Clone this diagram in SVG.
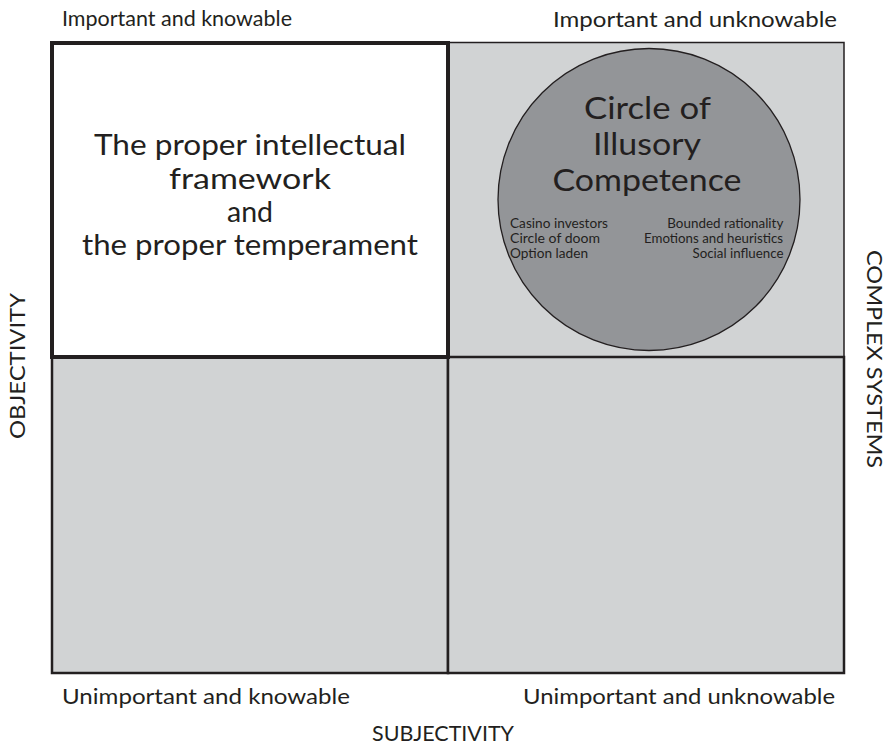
<svg xmlns="http://www.w3.org/2000/svg" width="890" height="746" viewBox="0 0 890 746">
<style>
text{font-family:Lato,"Open Sans","Liberation Sans",sans-serif;fill:#231f20}
.lbl{font-size:21px}
.big{font-size:28.5px;text-anchor:middle}
.ttl{font-size:31px;text-anchor:middle}
.sm{font-size:13px}
.q{fill:#d1d3d4;stroke:#231f20;stroke-width:2.5}
</style>
<rect width="890" height="746" fill="#ffffff"/>
<g id="q-tr"><rect class="q" x="448" y="42.5" width="396" height="314.5" style="stroke-width:1.5"/></g>
<g id="q-bl"><rect class="q" x="52" y="357" width="396" height="316"/></g>
<g id="q-br"><rect class="q" x="448" y="357" width="396" height="316"/></g>
<g id="q-tl"><rect x="52" y="43" width="396" height="314" fill="#ffffff" stroke="#231f20" stroke-width="4"/>
<text class="big" x="250" y="155" textLength="312" lengthAdjust="spacingAndGlyphs">The proper intellectual</text>
<text class="big" x="250" y="189" textLength="162" lengthAdjust="spacingAndGlyphs">framework</text>
<text class="big" x="250" y="222">and</text>
<text class="big" x="250" y="255" textLength="336" lengthAdjust="spacingAndGlyphs">the proper temperament</text>
</g>
<g id="circle">
<circle cx="649" cy="199.5" r="151" fill="#939598" stroke="#231f20" stroke-width="1.3"/>
<text class="ttl" x="647.5" y="119" textLength="127" lengthAdjust="spacingAndGlyphs">Circle of</text>
<text class="ttl" x="647" y="155" textLength="108" lengthAdjust="spacingAndGlyphs">Illusory</text>
<text class="ttl" x="647" y="191" textLength="189" lengthAdjust="spacingAndGlyphs">Competence</text>
<text class="sm" x="510" y="227.5" textLength="98" lengthAdjust="spacingAndGlyphs">Casino investors</text>
<text class="sm" x="510" y="242.5" textLength="90" lengthAdjust="spacingAndGlyphs">Circle of doom</text>
<text class="sm" x="510" y="257.5" textLength="78" lengthAdjust="spacingAndGlyphs">Option laden</text>
<text class="sm" x="667.3" y="227.5" textLength="116" lengthAdjust="spacingAndGlyphs">Bounded rationality</text>
<text class="sm" x="644" y="242.5" textLength="139" lengthAdjust="spacingAndGlyphs">Emotions and heuristics</text>
<text class="sm" x="692.5" y="257.5" textLength="91" lengthAdjust="spacingAndGlyphs">Social influence</text>
</g>
<g id="labels">
<text class="lbl" x="62" y="26" textLength="230" lengthAdjust="spacingAndGlyphs">Important and knowable</text>
<text class="lbl" x="553" y="26.5" textLength="284" lengthAdjust="spacingAndGlyphs">Important and unknowable</text>
<text class="lbl" x="62" y="704" textLength="288" lengthAdjust="spacingAndGlyphs">Unimportant and knowable</text>
<text class="lbl" x="523" y="704" textLength="312" lengthAdjust="spacingAndGlyphs">Unimportant and unknowable</text>
<text class="lbl" x="372" y="741" textLength="142" lengthAdjust="spacingAndGlyphs">SUBJECTIVITY</text>
<text class="lbl" transform="translate(25,366) rotate(-90)" text-anchor="middle" textLength="146" lengthAdjust="spacingAndGlyphs">OBJECTIVITY</text>
<text class="lbl" transform="translate(867,250) rotate(90)" textLength="218" lengthAdjust="spacingAndGlyphs">COMPLEX SYSTEMS</text>
</g>
<g id="connectors"></g>
</svg>
